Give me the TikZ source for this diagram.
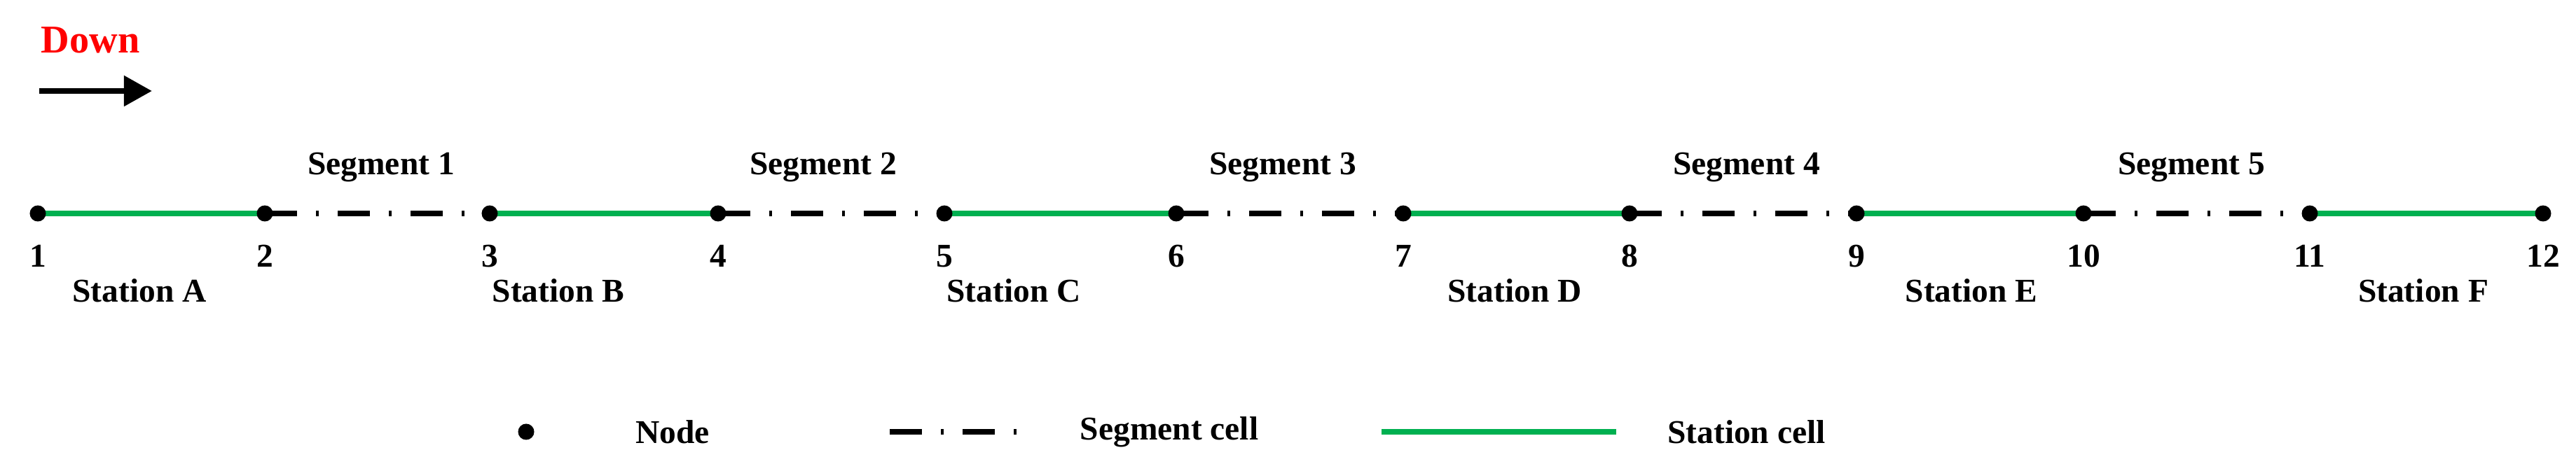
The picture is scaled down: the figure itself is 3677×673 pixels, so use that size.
\documentclass[tikz,border=0pt]{standalone}
\usepackage{fontspec}
\setmainfont{Liberation Serif}
\usetikzlibrary{arrows.meta}
\definecolor{stgreen}{HTML}{00B050}
\begin{document}
\begin{tikzpicture}[x=0.01cm,y=0.01cm,
  lbl/.style={font=\fontsize{13.5}{15}\selectfont\bfseries, inner sep=0pt},
  dotn/.style={circle,fill=black,inner sep=0pt,minimum size=0.23cm},
  seg/.style={line width=2pt,dash pattern=on 0.46cm off 0.27cm on 0.04cm off 0.27cm},
  sta/.style={line width=2pt,stgreen}]
\useasboundingbox (0,0) rectangle (3677,673);
\node[lbl,text=red,font=\fontsize{16}{18}\selectfont\bfseries] (down) at (129,616) {Down};
\coordinate (a0) at (56,543); \coordinate (a1) at (217,543);
\draw[line width=2.4pt,-{Triangle[length=0.4cm,width=0.42cm]}] (a0) -- (a1);
\foreach \i/\x in {1/54,2/378,3/699,4/1025,5/1348,6/1679,7/2003,8/2326,9/2650,10/2974,11/3297,12/3630}{
  \coordinate (p\i) at (\x,368);
}
\foreach \a/\b in {1/2,3/4,5/6,7/8,9/10,11/12}{\draw[sta] (p\a) -- (p\b);}
\foreach \a/\b in {2/3,4/5,6/7,8/9,10/11}{\draw[seg] (p\a) -- (p\b);}
\foreach \i in {1,...,12}{
  \node[dotn] (n\i) at (p\i) {};
  \node[lbl] (l\i) at ([yshift=-0.61cm]p\i) {\i};
}
\foreach \n/\x in {1/544,2/1175,3/1831,4/2493,5/3128}{\node[lbl] (s\n) at (\x,434) {Segment \n};}
\foreach \n/\x in {A/199,B/797,C/1447,D/2162,E/2814,F/3459}{\node[lbl] (st\n) at (\x,258) {Station \n};}
\node[dotn] (ld) at (751,56) {};
\node[lbl] (ldt) at (960,56) {Node};
\coordinate (ls0) at (1270,56); \coordinate (ls1) at (1453,56);
\draw[seg] (ls0) -- (ls1);
\node[lbl] (lst) at (1669,56) {Segment cell};
\coordinate (lg0) at (1972,56); \coordinate (lg1) at (2307,56);
\draw[sta] (lg0) -- (lg1);
\node[lbl] (lgt) at (2493,56) {Station cell};
\end{tikzpicture}
\end{document}
